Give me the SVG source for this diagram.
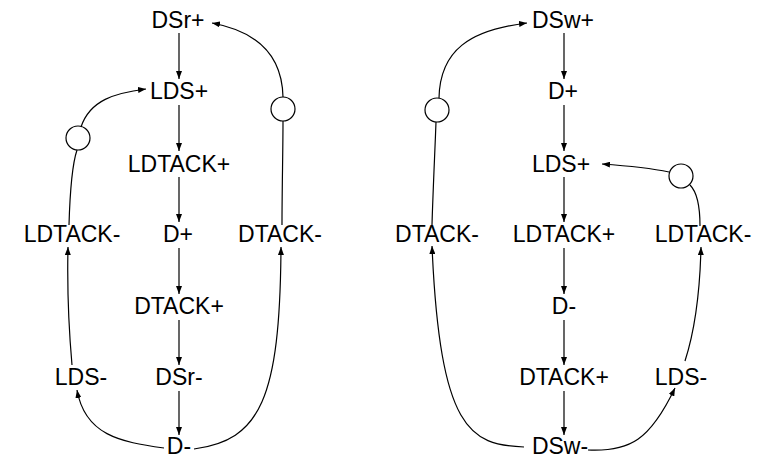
<svg xmlns="http://www.w3.org/2000/svg" width="763" height="458" viewBox="0 0 763 458">
  <style>
    text { font-family: "Liberation Sans", Arial, sans-serif; font-size: 23px; fill: #000; text-anchor: middle; }
    .edge { fill: none; stroke: #000; stroke-width: 1.2; }
    .place { fill: #fff; stroke: #000; stroke-width: 1.2; }
  </style>
  <defs>
    <marker id="arrow" markerWidth="8" markerHeight="6" refX="8" refY="3" orient="auto" markerUnits="userSpaceOnUse">
      <path d="M0,0 L8,3 L0,6 z" fill="#000"/>
    </marker>
  </defs>

  <rect width="763" height="458" fill="#fff"/>

  <!-- read cycle -->
  <g id="read-nodes">
    <g id="r-DSr-plus"><text x="178" y="28">DSr+</text></g>
    <g id="r-LDS-plus"><text x="179" y="99">LDS+</text></g>
    <g id="r-LDTACK-plus"><text x="179" y="172">LDTACK+</text></g>
    <g id="r-LDTACK-minus"><text x="72" y="242">LDTACK-</text></g>
    <g id="r-D-plus"><text x="178" y="242">D+</text></g>
    <g id="r-DTACK-minus"><text x="280" y="242">DTACK-</text></g>
    <g id="r-DTACK-plus"><text x="179" y="314">DTACK+</text></g>
    <g id="r-LDS-minus"><text x="81" y="385">LDS-</text></g>
    <g id="r-DSr-minus"><text x="179" y="385">DSr-</text></g>
    <g id="r-D-minus"><text x="179" y="454">D-</text></g>
    <g id="r-place-1"><circle class="place" cx="78" cy="138" r="12"/></g>
    <g id="r-place-2"><circle class="place" cx="283" cy="109" r="12"/></g>
  </g>

  <!-- write cycle -->
  <g id="write-nodes">
    <g id="w-DSw-plus"><text x="563" y="28">DSw+</text></g>
    <g id="w-D-plus"><text x="563" y="99">D+</text></g>
    <g id="w-LDS-plus"><text x="561" y="172">LDS+</text></g>
    <g id="w-DTACK-minus"><text x="437" y="242">DTACK-</text></g>
    <g id="w-LDTACK-plus"><text x="564" y="242">LDTACK+</text></g>
    <g id="w-LDTACK-minus"><text x="703" y="242">LDTACK-</text></g>
    <g id="w-D-minus"><text x="564" y="314">D-</text></g>
    <g id="w-DTACK-plus"><text x="564" y="385">DTACK+</text></g>
    <g id="w-LDS-minus"><text x="681" y="385">LDS-</text></g>
    <g id="w-DSw-minus"><text x="560" y="454">DSw-</text></g>
    <g id="w-place-1"><circle class="place" cx="437" cy="110" r="12"/></g>
    <g id="w-place-2"><circle class="place" cx="681" cy="176" r="12"/></g>
  </g>

  <g id="connectors">
    <!-- read cycle arcs -->
    <path class="edge" marker-end="url(#arrow)" d="M179,33 L179,79"/>
    <path class="edge" marker-end="url(#arrow)" d="M179,105 L179,151"/>
    <path class="edge" marker-end="url(#arrow)" d="M179,177 L179,222"/>
    <path class="edge" marker-end="url(#arrow)" d="M179,248 L179,294"/>
    <path class="edge" marker-end="url(#arrow)" d="M179,320 L179,365"/>
    <path class="edge" marker-end="url(#arrow)" d="M179,391 L179,435"/>
    <path class="edge" marker-end="url(#arrow)" d="M164,448 C120,442 85,435 77,390"/>
    <path class="edge" marker-end="url(#arrow)" d="M72,365 C68,320 67,290 68,247"/>
    <path class="edge" d="M69,225 C70,190 72,165 77,150"/>
    <path class="edge" marker-end="url(#arrow)" d="M81,127 C90,100 115,93 146,89"/>
    <path class="edge" marker-end="url(#arrow)" d="M194,449 C260,440 280,400 281,247"/>
    <path class="edge" d="M282,225 C282,190 283,150 283,121"/>
    <path class="edge" marker-end="url(#arrow)" d="M283,97 C282,50 250,30 212,23"/>

    <!-- write cycle arcs -->
    <path class="edge" marker-end="url(#arrow)" d="M564,33 L564,79"/>
    <path class="edge" marker-end="url(#arrow)" d="M564,105 L564,151"/>
    <path class="edge" marker-end="url(#arrow)" d="M564,177 L564,222"/>
    <path class="edge" marker-end="url(#arrow)" d="M564,248 L564,294"/>
    <path class="edge" marker-end="url(#arrow)" d="M564,320 L564,365"/>
    <path class="edge" marker-end="url(#arrow)" d="M564,391 L564,435"/>
    <path class="edge" marker-end="url(#arrow)" d="M524,447 C470,445 440,430 432,246"/>
    <path class="edge" marker-end="url(#arrow)" d="M588,450 C630,452 650,440 675,388"/>
    <path class="edge" marker-end="url(#arrow)" d="M685,361 C695,330 700,290 701,247"/>
    <path class="edge" d="M700,226 C700,205 697,192 690,185"/>
    <path class="edge" marker-end="url(#arrow)" d="M669,172 C650,168 630,166 602,164"/>
    <path class="edge" d="M432,225 C433,190 435,150 436,122"/>
    <path class="edge" marker-end="url(#arrow)" d="M439,98 C440,50 470,30 527,23"/>
  </g>
</svg>
